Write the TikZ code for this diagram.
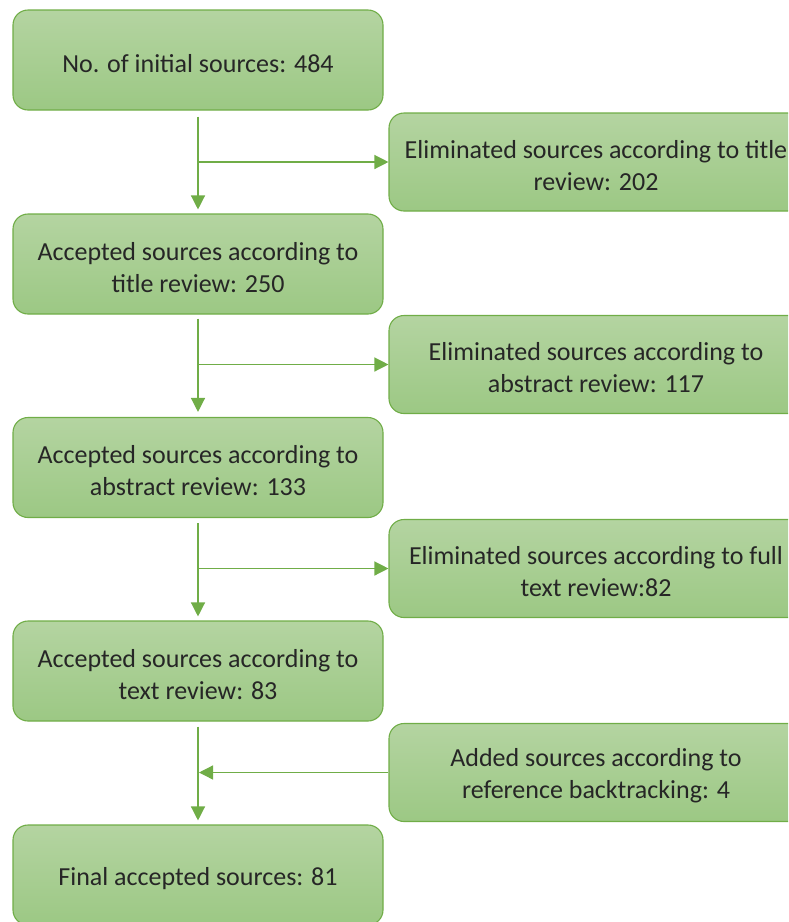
\documentclass[tikz,border=0pt]{standalone}
\usepackage{fontspec}
\setmainfont{Carlito}
\usetikzlibrary{arrows.meta,calc}
\definecolor{boxline}{HTML}{70AD47}
\definecolor{boxtop}{HTML}{B4D4A1}
\definecolor{boxbot}{HTML}{9CC884}
\definecolor{txt}{HTML}{262626}
% taller first line so the text sits slightly below the box centre
\newcommand{\firstlinestrut}{\rule{0pt}{25pt}}
\tikzset{
  stage/.style={draw=boxline, line width=1.1pt, rounded corners=15pt,
    top color=boxtop, bottom color=boxbot, text=txt, align=center,
    font=\fontsize{26pt}{32pt}\selectfont, inner sep=0pt},
  leftbox/.style={stage, minimum width=370pt, minimum height=100pt},
  rightbox/.style={stage, minimum width=414pt, minimum height=98pt},
  flow/.style={draw=boxline, line width=1.3pt, -{Triangle[width=14pt,length=14pt]}}
}
\begin{document}
\begin{tikzpicture}[x=1pt,y=-1pt]
\useasboundingbox (0,0) rectangle (788,922);
\clip (0,0) rectangle (788,922);

% main column
\node[leftbox] (b1) at (198,60)  {\firstlinestrut No. of initial sources: 484};
\node[leftbox] (b2) at (198,264) {\firstlinestrut Accepted sources according to\\title review: 250};
\node[leftbox] (b3) at (198,467.5) {\firstlinestrut Accepted sources according to\\abstract review: 133};
\node[leftbox] (b4) at (198,671) {\firstlinestrut Accepted sources according to\\text review: 83};
\node[leftbox] (b5) at (198,875) {\firstlinestrut Final accepted sources: 81};

% side boxes
\node[rightbox] (r1) at (596,162)   {\firstlinestrut Eliminated sources according to title\\review: 202};
\node[rightbox] (r2) at (596,364.5) {\firstlinestrut Eliminated sources according to\\abstract review: 117};
\node[rightbox] (r3) at (596,568.5) {\firstlinestrut Eliminated sources according to full\\text review:82};
\node[rightbox] (r4) at (596,772.5) {\firstlinestrut Added sources according to\\reference backtracking: 4};

% vertical flow
\draw[flow] ($(b1.south)+(0,6)$) -- ($(b2.north)+(0,-4)$);
\draw[flow] ($(b2.south)+(0,4)$) -- ($(b3.north)+(0,-5)$);
\draw[flow] ($(b3.south)+(0,5)$) -- ($(b4.north)+(0,-4)$);
\draw[flow] ($(b4.south)+(0,5)$) -- ($(b5.north)+(0,-4)$);

% branches
\draw[flow] (b1.south |- r1.west) -- (r1.west);
\draw[flow] (b2.south |- r2.west) -- (r2.west);
\draw[flow] (b3.south |- r3.west) -- (r3.west);
\coordinate (m4) at ($(b4.south |- r4.west)+(1,0)$);
\draw[flow] (r4.west) -- (m4);
\end{tikzpicture}
\end{document}
